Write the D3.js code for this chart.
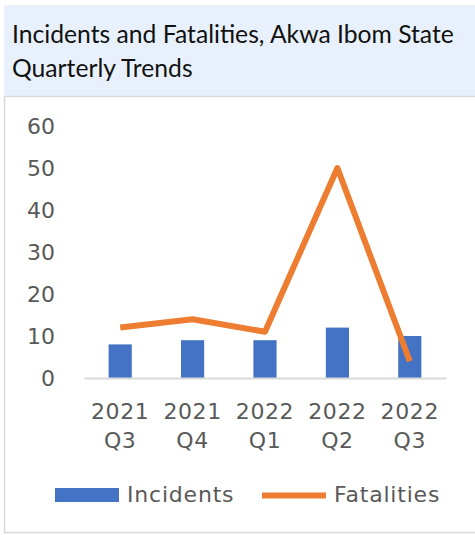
<!DOCTYPE html>
<html>
<head>
<meta charset="utf-8">
<script src="https://cdn.jsdelivr.net/npm/d3@7"></script>
<style>
  html, body { margin: 0; padding: 0; background: #ffffff; }
  svg { display: block; }
</style>
</head>
<body>
<svg id="chart" width="475" height="535"></svg>
<script>
// Quarterly incident and fatality counts, Akwa Ibom State
const quarters = ["2021 Q3", "2021 Q4", "2022 Q1", "2022 Q2", "2022 Q3"];
const incidents = [8, 9, 9, 12, 10];
const fatalities = [12, 14, 11, 50, 4];
const yTicks = [0, 10, 20, 30, 40, 50, 60];
const titleLines = ["Incidents and Fatalities, Akwa Ibom State", "Quarterly Trends"];
const seriesNames = ["Incidents", "Fatalities"];

const svg = d3.select("#chart");
const axisFont = "'DejaVu Sans', sans-serif";
const textColor = "#595959";
const barColor = "#4472c4";
const lineColor = "#ed7d31";

// Title band
svg.append("rect")
  .attr("x", 4).attr("y", 5).attr("width", 471).attr("height", 91)
  .attr("fill", "#e8f1fb");
svg.append("g").selectAll("text").data(titleLines).join("text")
  .attr("x", 12)
  .attr("y", (d, i) => 43 + i * 34)
  .attr("font-family", "Lato, 'Open Sans', sans-serif")
  .attr("font-size", 24.7)
  .attr("fill", "#111111")
  .text(d => d);

// Chart frame
svg.append("rect")
  .attr("x", 4.5).attr("y", 96.5).attr("width", 475).attr("height", 436)
  .attr("fill", "#ffffff").attr("stroke", "#d9d9d9").attr("stroke-width", 1.5);

const x = d3.scaleBand().domain(quarters).range([84, 446])
  .paddingInner(0.68).paddingOuter(0.34);
const y = d3.scaleLinear().domain([0, 60]).range([378, 126]);

// Y axis labels (no axis line)
const yAxis = d3.axisLeft(y).tickValues(yTicks).tickSize(0).tickPadding(0);
const gy = svg.append("g").attr("transform", "translate(55,0)").call(yAxis);
gy.select(".domain").remove();
gy.selectAll("text")
  .attr("font-family", axisFont).attr("font-size", 22)
  .attr("fill", textColor).attr("dy", "0.36em");

// Bars
svg.append("g").selectAll("rect").data(incidents).join("rect")
  .attr("x", (d, i) => x(quarters[i]))
  .attr("y", d => y(d))
  .attr("width", x.bandwidth())
  .attr("height", d => y(0) - y(d))
  .attr("fill", barColor);

// X axis baseline and two-line category labels
const xAxis = d3.axisBottom(x).tickSize(0).tickPadding(0);
const gx = svg.append("g").attr("transform", "translate(0,378)").call(xAxis);
gx.select(".domain").attr("stroke", "#d9d9d9").attr("stroke-width", 2);
gx.selectAll(".tick text").each(function(d) {
  const parts = d.split(" ");
  const t = d3.select(this).text(null)
    .attr("font-family", axisFont).attr("font-size", 22)
    .attr("fill", textColor).attr("y", 0).attr("dy", null)
    .style("letter-spacing", "0.6px");
  t.append("tspan").attr("x", 0).attr("y", 41).text(parts[0]);
  t.append("tspan").attr("x", 0).attr("y", 70).text(parts[1]);
});

// Fatalities line
const line = d3.line()
  .x((d, i) => x(quarters[i]) + x.bandwidth() / 2)
  .y(d => y(d));
svg.append("path").datum(fatalities)
  .attr("d", line)
  .attr("fill", "none")
  .attr("stroke", lineColor)
  .attr("stroke-width", 6)
  .attr("stroke-linejoin", "round")
  .attr("stroke-linecap", "butt");

// Legend
const legend = svg.append("g");
legend.append("rect").attr("x", 55).attr("y", 488).attr("width", 64).attr("height", 14)
  .attr("fill", barColor);
legend.append("line").attr("x1", 262).attr("x2", 326).attr("y1", 495.5).attr("y2", 495.5)
  .attr("stroke", lineColor).attr("stroke-width", 6);
legend.selectAll("text").data(seriesNames).join("text")
  .attr("x", (d, i) => i === 0 ? 127 : 334)
  .attr("y", 502)
  .attr("font-family", axisFont).attr("font-size", 22)
  .attr("fill", textColor)
  .style("letter-spacing", "0.8px")
  .text(d => d);
</script>
</body>
</html>
